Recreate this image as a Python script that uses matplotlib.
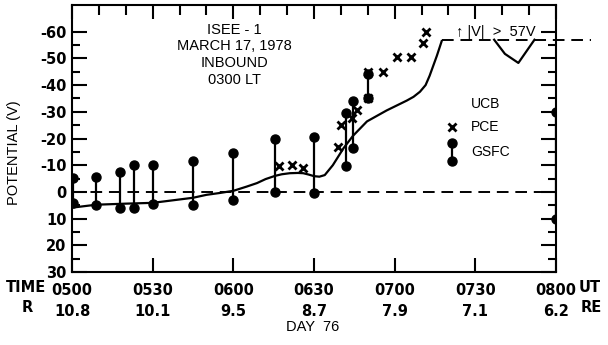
import numpy as np
import matplotlib
matplotlib.use("Agg")
import matplotlib.pyplot as plt
from matplotlib.ticker import MultipleLocator, FixedLocator, FuncFormatter

# minutes after 0500 UT, potential in volts (negative is plotted upward)
GSFC_T = [0.5, 9, 18, 23, 30, 45, 60, 75.5, 90, 102, 104.5, 110, 180]
GSFC_TOP = [-5.2, -5.6, -7.4, -10, -10, -11.5, -14.5, -20, -20.4, -29.4, -34, -44, -30]
GSFC_BOT = [4.1, 4.8, 5.9, 5.9, 4.5, 4.8, 3, 0, 0.4, -9.7, -16.4, -35.3, 10]

PCE_T = [77, 82, 86, 99, 100, 104, 106, 110, 110, 115.6, 121, 126, 130.6, 131.7]
PCE_V = [-9.7, -10, -8.9, -16.7, -24.9, -27.5, -30.5, -45, -35, -45, -50.5, -50.5, -55.6, -59.8]

UCB_T = [0, 9, 20, 30, 45, 50, 55, 60, 65, 68.8, 72, 75.5, 78, 81, 84, 86, 88, 90,
         92, 94, 97, 101, 104.5, 109.7, 117, 124.5, 127, 129.4, 131.5, 133, 135.7, 137.5]
UCB_V = [5.9, 4.8, 4.4, 4.1, 2.2, 1.1, 0.4, -0.4, -2.0, -3.3, -4.8, -6, -6.6, -7, -7.1, -7, -6.5, -5.9,
         -5.7, -6.3, -10, -16.4, -21, -26.4, -30.5, -34.2, -35.6, -37.5, -40, -43.5, -51, -56.5]

DIP_T = [157, 161, 166, 172]
DIP_V = [-57, -51.7, -48.3, -57]

SAT_LEVEL = -57
SAT_T = [137.5, 193]

TIME_TICKS = [0, 30, 60, 90, 120, 150, 180]
TIME_LABELS = ["0500", "0530", "0600", "0630", "0700", "0730", "0800"]
R_LABELS = ["10.8", "10.1", "9.5", "8.7", "7.9", "7.1", "6.2"]
V_TICKS = [-60, -50, -40, -30, -20, -10, 0, 10, 20, 30]

TITLE_LINES = ["ISEE - 1", "MARCH 17, 1978", "INBOUND", "0300 LT"]

plt.rcParams['font.family'] = ['Liberation Sans', 'DejaVu Sans']

fig = plt.figure(figsize=(6.08, 3.45), dpi=100)
ax = fig.add_axes([72/608, 1-272/345, 484/608, 267/345])

ax.set_xlim(0, 180)
ax.set_ylim(30, -70)

# zero and saturation lines
ax.plot([0, 180], [0, 0], color='k', lw=1.4, dashes=(6, 3.5))
ax.plot(SAT_T, [SAT_LEVEL, SAT_LEVEL], color='k', lw=1.4, dashes=(6, 3.5), clip_on=False)

# UCB curve
ax.plot(UCB_T, UCB_V, color='k', lw=1.6, solid_joinstyle='round')
ax.plot(DIP_T, DIP_V, color='k', lw=1.6)

# GSFC dumbbells
ax.vlines(GSFC_T, GSFC_BOT, GSFC_TOP, color='k', lw=1.6)
ax.plot(GSFC_T, GSFC_TOP, 'o', color='k', ms=6.5)
ax.plot(GSFC_T, GSFC_BOT, 'o', color='k', ms=6.5)

# PCE crosses
ax.plot(PCE_T, PCE_V, 'x', color='k', ms=6, mew=2, linestyle='none')

for s in ax.spines.values():
    s.set_linewidth(1.5)

ax.yaxis.set_major_locator(FixedLocator(V_TICKS))
ax.yaxis.set_minor_locator(FixedLocator(np.arange(-55, 30, 10)))
ax.yaxis.set_major_formatter(FuncFormatter(lambda v, p: "%d" % v))
ax.tick_params(axis='y', which='major', direction='in', length=11, width=1.5,
               right=True, pad=4)
ax.tick_params(axis='y', which='minor', direction='in', length=6, width=1.5, right=True)
for lab in ax.get_yticklabels():
    lab.set_fontfamily('DejaVu Sans')
    lab.set_fontweight('bold')
    lab.set_fontsize(10.5)

ax.xaxis.set_major_locator(FixedLocator(TIME_TICKS))
ax.xaxis.set_minor_locator(MultipleLocator(10))
ax.set_xticklabels([a + "\n" + b for a, b in zip(TIME_LABELS, R_LABELS)],
                   fontfamily='DejaVu Sans', fontweight='bold', fontsize=10.5,
                   linespacing=1.45)
ax.tick_params(axis='x', which='major', direction='in', length=10, width=1.5,
               top=True, pad=8)
ax.tick_params(axis='x', which='minor', direction='in', length=7, width=1.5,
               top=True, bottom=False)

# title block
for i, line in enumerate(TITLE_LINES):
    ax.text(0.336, 0.908 - i * 0.0625, line, transform=ax.transAxes,
            ha='center', va='center', fontsize=10.5)

ax.text(157.6, -60, "\u2191 |V|  >  57V", ha='center', va='center', fontsize=10.5)

# legend
lx = 0.785
ax.text(lx + 0.04, 0.628, "UCB", transform=ax.transAxes, ha='left', va='center', fontsize=10)
ax.plot([lx], [0.543], 'x', color='k', ms=6, mew=2, transform=ax.transAxes)
ax.text(lx + 0.04, 0.543, "PCE", transform=ax.transAxes, ha='left', va='center', fontsize=10)
ax.plot([lx, lx], [0.417, 0.483], '-o', color='k', lw=1.6, ms=6.5, transform=ax.transAxes)
ax.text(lx + 0.04, 0.45, "GSFC", transform=ax.transAxes, ha='left', va='center', fontsize=10)

# axis row labels
bold = dict(fontfamily='DejaVu Sans', fontweight='bold', fontsize=10.5)
fig.text(26/608, 1-288/345, "TIME", ha='center', va='center', **bold)
fig.text(27/608, 1-308/345, "R", ha='center', va='center', **bold)
fig.text(590/608, 1-288/345, "UT", ha='center', va='center', **bold)
fig.text(591/608, 1-308/345, "RE", ha='center', va='center', **bold)
fig.text(313/608, 1-327/345, "DAY  76", ha='center', va='center', fontsize=10.5)
fig.text(14/608, 1-153/345, "POTENTIAL (V)", rotation=90, ha='center', va='center', fontsize=10.5)

fig.savefig("out.png", dpi=100)
